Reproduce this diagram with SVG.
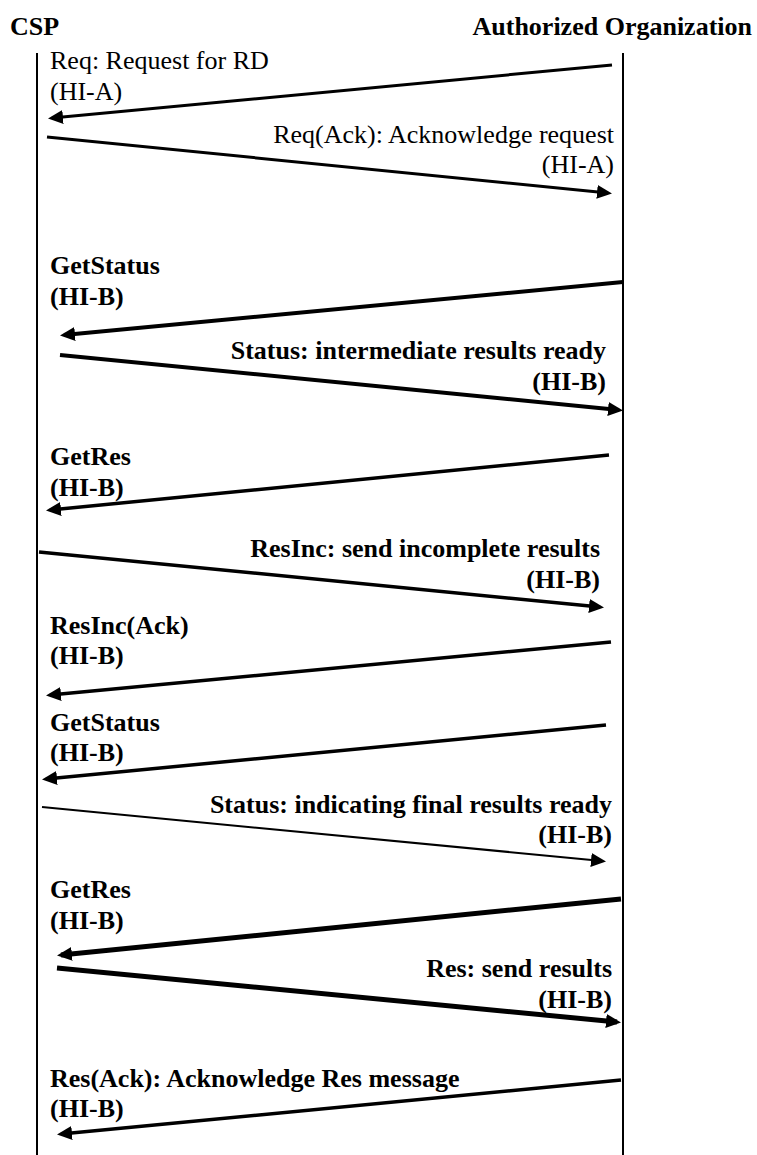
<svg xmlns="http://www.w3.org/2000/svg" width="757" height="1155" viewBox="0 0 757 1155">
<style>
text{font-family:"Liberation Serif","Times New Roman",serif;font-size:26px;fill:#000}
.b{font-weight:bold}
.r{text-anchor:end}
.life{stroke:#000;stroke-width:2;fill:none}
.msg{stroke:#000;fill:none;marker-end:url(#ah)}
</style>
<defs>
<marker id="ah" markerUnits="userSpaceOnUse" markerWidth="16" markerHeight="14" refX="11" refY="7" orient="auto">
<path d="M0,0 L15,7 L0,14 z" fill="#000"/>
</marker>
</defs>
<rect width="757" height="1155" fill="#fff"/>
<g id="csp">
<text class="b" x="10" y="35">CSP</text>
<line class="life" x1="37" y1="53" x2="37" y2="1155"/>
</g>
<g id="ao">
<text class="b r" x="752" y="35">Authorized Organization</text>
<line class="life" x1="623" y1="53" x2="623" y2="1155"/>
</g>
<g id="connectors">
<line class="msg" x1="612" y1="65" x2="52" y2="118" stroke-width="3"/>
<line class="msg" x1="47" y1="137" x2="608" y2="193" stroke-width="3"/>
<line class="msg" x1="623" y1="282" x2="64" y2="335" stroke-width="4"/>
<line class="msg" x1="60" y1="355" x2="619" y2="410" stroke-width="4"/>
<line class="msg" x1="609" y1="455" x2="50" y2="510" stroke-width="3.5"/>
<line class="msg" x1="39" y1="552" x2="600" y2="607" stroke-width="3.5"/>
<line class="msg" x1="611" y1="642" x2="50" y2="695" stroke-width="3.5"/>
<line class="msg" x1="606" y1="725" x2="46" y2="779" stroke-width="3.5"/>
<line class="msg" x1="42" y1="807" x2="602" y2="861" stroke-width="2"/>
<line class="msg" x1="621" y1="899" x2="61" y2="955" stroke-width="5"/>
<line class="msg" x1="57" y1="968" x2="617" y2="1022" stroke-width="5"/>
<line class="msg" x1="621" y1="1080" x2="61" y2="1134" stroke-width="3.5"/>
</g>
<g id="labels">
<text x="50" y="69">Req: Request for RD</text>
<text x="50" y="100">(HI-A)</text>
<text class="r" x="614" y="143">Req(Ack): Acknowledge request</text>
<text class="r" x="614" y="173">(HI-A)</text>
<text class="b" x="50" y="274">GetStatus</text>
<text class="b" x="50" y="305">(HI-B)</text>
<text class="b r" x="606" y="359">Status: intermediate results ready</text>
<text class="b r" x="606" y="390">(HI-B)</text>
<text class="b" x="50" y="465">GetRes</text>
<text class="b" x="50" y="496">(HI-B)</text>
<text class="b r" x="600" y="557">ResInc: send incomplete results</text>
<text class="b r" x="600" y="588">(HI-B)</text>
<text class="b" x="50" y="634">ResInc(Ack)</text>
<text class="b" x="50" y="664">(HI-B)</text>
<text class="b" x="50" y="731">GetStatus</text>
<text class="b" x="50" y="761">(HI-B)</text>
<text class="b r" x="612" y="813">Status: indicating final results ready</text>
<text class="b r" x="612" y="843">(HI-B)</text>
<text class="b" x="50" y="898">GetRes</text>
<text class="b" x="50" y="929">(HI-B)</text>
<text class="b r" x="612" y="977">Res: send results</text>
<text class="b r" x="612" y="1008">(HI-B)</text>
<text class="b" x="50" y="1087">Res(Ack): Acknowledge Res message</text>
<text class="b" x="50" y="1117">(HI-B)</text>
</g>
</svg>
